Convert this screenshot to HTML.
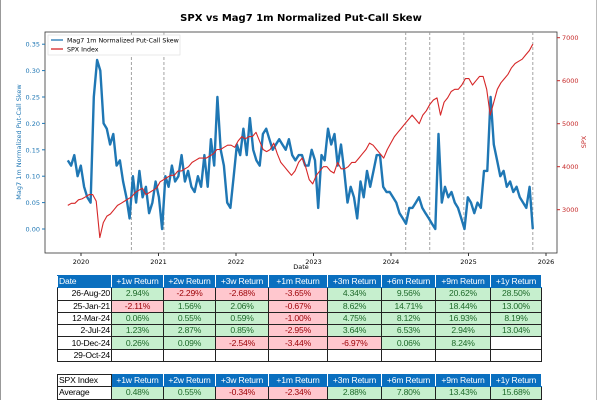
<!DOCTYPE html>
<html><head><meta charset="utf-8"><style>
body{margin:0;width:600px;height:400px;background:#fff;overflow:hidden;position:relative;font-family:"Liberation Sans",Arial,sans-serif;}
svg{position:absolute;left:0;top:0}
table{position:absolute;border-collapse:collapse;font-size:8.6px;letter-spacing:-0.2px;table-layout:fixed;}
td{border:1px solid #222;height:11.3px;padding:0 1px;text-align:center;line-height:11px;white-space:nowrap;overflow:hidden}
tr.h td{background:#0A6FBF;color:#fff;border-color:#0A6FBF #fff #0A6FBF #fff}
td.d{text-align:right}
td.g{background:#C6EFCE;color:#1e6a2a}
td.r{background:#FFC7CE;color:#9C0006}
</style></head><body>
<div style="position:absolute;left:0;top:0;width:597px;height:400px;border-left:1px solid #999;border-right:1px solid #bbb;box-sizing:border-box"></div>
<svg id="chart" width="600" height="270"></svg>
<table style="left:57px;top:275px;width:484px">
<colgroup><col style="width:54px"><col style="width:52px"><col style="width:52px"><col style="width:53px"><col style="width:59px"><col style="width:54px"><col style="width:54px"><col style="width:55px"><col style="width:51px"></colgroup>
<tr class="h"><td style="text-align:left">Date</td><td>+1w Return</td><td>+2w Return</td><td>+3w Return</td><td>+1m Return</td><td>+3m Return</td><td>+6m Return</td><td>+9m Return</td><td>+1y Return</td></tr>
<tr><td class="d">26-Aug-20</td><td class="g">2.94%</td><td class="r">-2.29%</td><td class="r">-2.68%</td><td class="r">-3.65%</td><td class="g">4.34%</td><td class="g">9.56%</td><td class="g">20.62%</td><td class="g">28.50%</td></tr>
<tr><td class="d">25-Jan-21</td><td class="r">-2.11%</td><td class="g">1.56%</td><td class="g">2.06%</td><td class="r">-0.67%</td><td class="g">8.62%</td><td class="g">14.71%</td><td class="g">18.44%</td><td class="g">13.00%</td></tr>
<tr><td class="d">12-Mar-24</td><td class="g">0.06%</td><td class="g">0.55%</td><td class="g">0.59%</td><td class="r">-1.00%</td><td class="g">4.75%</td><td class="g">8.12%</td><td class="g">16.93%</td><td class="g">8.19%</td></tr>
<tr><td class="d">2-Jul-24</td><td class="g">1.23%</td><td class="g">2.87%</td><td class="g">0.85%</td><td class="r">-2.95%</td><td class="g">3.64%</td><td class="g">6.53%</td><td class="g">2.94%</td><td class="g">13.04%</td></tr>
<tr><td class="d">10-Dec-24</td><td class="g">0.26%</td><td class="g">0.09%</td><td class="r">-2.54%</td><td class="r">-3.44%</td><td class="r">-6.97%</td><td class="g">0.06%</td><td class="g">8.24%</td><td></td></tr>
<tr><td class="d">29-Oct-24</td><td></td><td></td><td></td><td></td><td></td><td></td><td></td><td></td></tr>
</table>
<table style="left:57px;top:374px;width:484px">
<colgroup><col style="width:54px"><col style="width:52px"><col style="width:52px"><col style="width:53px"><col style="width:59px"><col style="width:54px"><col style="width:54px"><col style="width:55px"><col style="width:51px"></colgroup>
<tr class="h"><td style="text-align:left;background:#fff;color:#000;border-color:#222">SPX Index</td><td>+1w Return</td><td>+2w Return</td><td>+3w Return</td><td>+1m Return</td><td>+3m Return</td><td>+6m Return</td><td>+9m Return</td><td>+1y Return</td></tr>
<tr><td style="text-align:left">Average</td><td class="g">0.48%</td><td class="g">0.55%</td><td class="r">-0.34%</td><td class="r">-2.34%</td><td class="g">2.88%</td><td class="g">7.80%</td><td class="g">13.43%</td><td class="g">15.68%</td></tr>
</table>
<script>
const skew=[0.13,0.12,0.14,0.10,0.12,0.08,0.06,0.05,0.25,0.32,0.30,0.20,0.19,0.16,0.18,0.12,0.13,0.09,0.06,0.02,0.10,0.05,0.11,0.06,0.08,0.03,0.05,0.09,0.06,0.00,0.10,0.08,0.12,0.09,0.10,0.14,0.09,0.11,0.08,0.07,0.10,0.08,0.14,0.08,0.17,0.12,0.25,0.15,0.12,0.05,0.04,0.10,0.16,0.14,0.19,0.14,0.21,0.15,0.13,0.12,0.18,0.19,0.17,0.15,0.16,0.17,0.16,0.15,0.17,0.14,0.13,0.14,0.14,0.12,0.12,0.15,0.13,0.04,0.14,0.13,0.19,0.16,0.18,0.12,0.16,0.11,0.05,0.08,0.06,0.02,0.09,0.06,0.11,0.08,0.11,0.14,0.14,0.08,0.07,0.07,0.06,0.05,0.03,0.02,0.01,0.04,0.04,0.05,0.06,0.04,0.03,0.02,0.01,0.00,0.18,0.05,0.08,0.06,0.07,0.05,0.04,0.02,0.00,0.06,0.05,0.03,0.05,0.04,0.11,0.11,0.25,0.16,0.13,0.10,0.11,0.08,0.09,0.07,0.08,0.06,0.05,0.04,0.08,0.00];
const spx=[3100,3150,3150,3230,3250,3300,3350,3350,3200,2350,2700,2850,2900,3000,3100,3150,3200,3250,3300,3400,3450,3500,3350,3400,3450,3500,3650,3700,3750,3800,3800,3900,3900,3950,4000,4100,4150,4200,4200,4200,4250,4300,4400,4400,4450,4500,4500,4450,4600,4700,4650,4700,4700,4800,4600,4400,4350,4400,4550,4300,4100,4000,3900,3800,3900,4100,4200,4000,3700,3600,3800,3900,4000,4000,3900,3850,4100,3950,3950,4000,4100,4100,4200,4300,4400,4550,4500,4400,4300,4200,4400,4550,4700,4800,4900,5000,5100,5200,5100,5000,5200,5300,5450,5550,5600,5200,5500,5600,5750,5800,5800,5900,6050,6050,5900,6000,6100,6100,5800,5200,5500,5800,5950,6050,6150,6300,6400,6450,6500,6600,6700,6850];
const startYear=2019.83, endYear=2025.83;
const eventYears=[2020.65,2021.07,2024.19,2024.5,2024.94,2025.83];
const yearTicks=[2020,2021,2022,2023,2024,2025,2026];
const skewTicks=[0,0.05,0.10,0.15,0.20,0.25,0.30,0.35];
const spxTicks=[3000,4000,5000,6000,7000];
const L=45,R=557,T=32,B=253;
const xs=y=>81+(y-2020)*77.5;
const ys=v=>229-v*528;
const yr=v=>209.7-(v-3000)*0.043;
const svg=document.getElementById('chart');const NS='http://www.w3.org/2000/svg';
function el(t,a,p){const e=document.createElementNS(NS,t);for(const k in a)e.setAttribute(k,a[k]);(p||svg).appendChild(e);return e;}
function txt(s,a){const e=el('text',a);e.textContent=s;return e;}
let t=txt('SPX vs Mag7 1m Normalized Put-Call Skew',{x:301,y:21,'text-anchor':'middle','font-size':10,'font-weight':'bold','font-family':'DejaVu Sans,sans-serif'});

el('rect',{x:L,y:T,width:R-L,height:B-T,fill:'none',stroke:'#333','stroke-width':0.8});
eventYears.forEach(y=>{const l=el('line',{x1:xs(y),x2:xs(y),y1:T,y2:B,stroke:'#999','stroke-dasharray':'3,2','stroke-width':0.9});
});
yearTicks.forEach(y=>{el('line',{x1:xs(y),x2:xs(y),y1:B,y2:B+3,stroke:'#333'});txt(String(y),{x:xs(y),y:B+11,'text-anchor':'middle','font-size':6.5,'font-family':'DejaVu Sans,sans-serif'});});
skewTicks.forEach(v=>{el('line',{x1:L-3,x2:L,y1:ys(v),y2:ys(v),stroke:'#1f77b4'});txt(v.toFixed(2),{x:L-5,y:ys(v)+2.5,'text-anchor':'end','font-size':6.5,fill:'#1f77b4','font-family':'DejaVu Sans,sans-serif'});});
spxTicks.forEach(v=>{el('line',{x1:R,x2:R+3,y1:yr(v),y2:yr(v),stroke:'#c62828'});txt(String(v),{x:R+5,y:yr(v)+2.5,'font-size':6.5,fill:'#c62828','font-family':'DejaVu Sans,sans-serif'});});
txt('Date',{x:301,y:269,'text-anchor':'middle','font-size':6.5,'font-family':'DejaVu Sans,sans-serif'});
t=txt('Mag7 1m Normalized Put-Call Skew',{x:0,y:0,transform:'translate(21,142) rotate(-90)','text-anchor':'middle','font-size':6.5,fill:'#1f77b4','font-family':'DejaVu Sans,sans-serif'});

t=txt('SPX',{x:0,y:0,transform:'translate(586,142) rotate(-90)','text-anchor':'middle','font-size':6.5,fill:'#c62828','font-family':'DejaVu Sans,sans-serif'});

function line(arr,yf,col,name,w){const n=arr.length;const pts=arr.map((v,i)=>xs(startYear+(endYear-startYear)*i/(n-1)).toFixed(1)+','+yf(v).toFixed(1)).join(' ');
const p=el('polyline',{points:pts,fill:'none',stroke:col,'stroke-width':w,'stroke-linejoin':'round'});}
line(skew,ys,'#1f77b4','skew-line',2.4);
line(spx,yr,'#d62728','spx-line',1.1);
const lg=el('g',{});
el('rect',{x:48,y:35,width:132,height:20,fill:'#fff',stroke:'#ddd','stroke-width':0.6},lg);
el('line',{x1:51,x2:63,y1:40,y2:40,stroke:'#1f77b4','stroke-width':1.3},lg);
el('line',{x1:51,x2:63,y1:49,y2:49,stroke:'#d62728','stroke-width':1.3},lg);
let a=el('text',{x:67,y:42.5,'font-size':6.3,'font-family':'DejaVu Sans,sans-serif'},lg);a.textContent='Mag7 1m Normalized Put-Call Skew';
a=el('text',{x:67,y:51.5,'font-size':6.3,'font-family':'DejaVu Sans,sans-serif'},lg);a.textContent='SPX Index';
</script>
</body></html>
